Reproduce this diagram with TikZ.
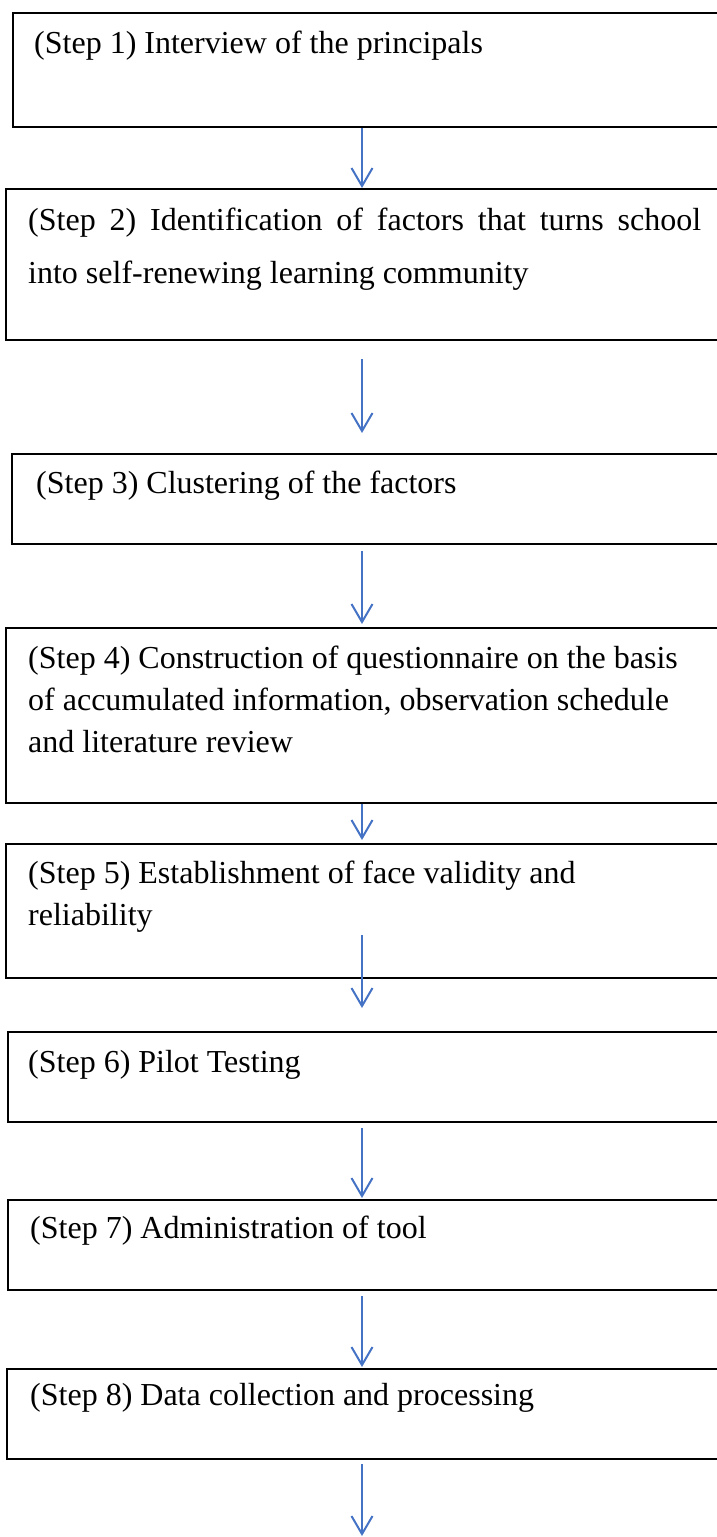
\documentclass[tikz,border=0pt]{standalone}
\usepackage{fontspec}
\setmainfont{Liberation Serif}
\usetikzlibrary{arrows.meta,positioning}

\definecolor{flowblue}{RGB}{68,114,196}
\newcommand{\stepfont}{\fontsize{32}{42}\selectfont}

\begin{document}
\begin{tikzpicture}[x=1pt, y=-1pt,
 stepbox/.style={draw=black, line width=1.8pt, rectangle, anchor=north west,
  minimum width=740pt, inner sep=0pt},
 steptext/.style={font=\stepfont, align=left, inner sep=0pt},
 flow/.style={draw=flowblue, line width=2pt,
  -{Straight Barb[length=18pt, width=21pt]}}]

\useasboundingbox (0,0) rectangle (716,1537);

% boxes, open to the right
\node[stepbox, minimum height=114pt] (s1) at (12,12) {};
\node[stepbox, minimum height=151pt] (s2) at (5,188) {};
\node[stepbox, minimum height=90pt] (s3) at (11,453) {};
\node[stepbox, minimum height=175pt] (s4) at (5,627) {};
\node[stepbox, minimum height=134pt] (s5) at (5,843) {};
\node[stepbox, minimum height=90pt] (s6) at (7,1031) {};
\node[stepbox, minimum height=90pt] (s7) at (7,1199) {};
\node[stepbox, minimum height=90pt] (s8) at (6,1368) {};

% step texts
\node[steptext, below right=19pt and 22pt of s1.north west] (t1)
 {(Step 1) Interview of the principals};
\node[steptext, font=\fontsize{32}{53}\selectfont,
 below right=20pt and 23pt of s2.north west] (t2)
 {\makebox[673pt][s]{(Step 2) Identification of factors that turns school}\\
  into self-renewing learning community};
\node[steptext, below right=18pt and 25pt of s3.north west] (t3)
 {(Step 3) Clustering of the factors};
\node[steptext, below right=19pt and 23pt of s4.north west] (t4)
 {(Step 4) Construction of questionnaire on the basis\\
  of accumulated information, observation schedule\\
  and literature review};
\node[steptext, below right=18pt and 23pt of s5.north west] (t5)
 {(Step 5) Establishment of face validity and\\ reliability};
\node[steptext, below right=19pt and 21pt of s6.north west] (t6)
 {(Step 6) Pilot Testing};
\node[steptext, below right=17pt and 23pt of s7.north west] (t7)
 {(Step 7) Administration of tool};
\node[steptext, below right=15pt and 24pt of s8.north west] (t8)
 {(Step 8) Data collection and processing};

% arrows down the middle
\coordinate (axis) at (362,0);
\coordinate (fin) at (362,1536);
\draw[flow] (s1.south -| axis) -- (s2.north -| axis);
\draw[flow, shorten <=18pt, shorten >=20pt] (s2.south -| axis) -- (s3.north -| axis);
\draw[flow, shorten <=6pt, shorten >=3pt] (s3.south -| axis) -- (s4.north -| axis);
\draw[flow, shorten >=3pt] (s4.south -| axis) -- (s5.north -| axis);
\draw[flow, shorten <=-44pt, shorten >=23pt] (s5.south -| axis) -- (s6.north -| axis);
\draw[flow, shorten <=5pt, shorten >=1pt] (s6.south -| axis) -- (s7.north -| axis);
\draw[flow, shorten <=5pt, shorten >=1pt] (s7.south -| axis) -- (s8.north -| axis);
\draw[flow, shorten <=4pt] (s8.south -| axis) -- (fin);
\end{tikzpicture}
\end{document}
